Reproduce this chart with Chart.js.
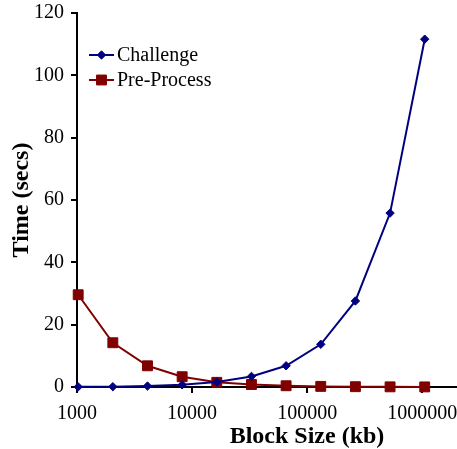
<!DOCTYPE html>
<html>
<head>
<meta charset="utf-8">
<script src="https://cdn.jsdelivr.net/npm/chart.js@4/dist/chart.umd.min.js"></script>
<style>
  body { margin: 0; background: #fff; }
  #wrap { width: 457px; height: 449px; }
</style>
</head>
<body>
<div id="wrap"><canvas id="myChart" width="457" height="449"></canvas></div>
<script>
// block sizes (kb)
const blockSizes = [1024, 2048, 4096, 8192, 16384, 32768, 65536, 131072, 262144, 524288, 1048576]
const challenge = [0.05, 0.1, 0.3, 0.7, 1.6, 3.4, 6.8, 13.7, 27.6, 55.8, 111.6]
const preProcess = [29.6, 14.2, 6.8, 3.3, 1.5, 0.8, 0.4, 0.2, 0.1, 0.05, 0.03]
const xTicks = [1000, 10000, 100000, 1000000]
const yTicks = [0, 20, 40, 60, 80, 100, 120]

const serif = "'Liberation Serif', 'Times New Roman', serif"

function pts(ys) {
    return blockSizes.map(function (x, i) { return { x: x, y: ys[i] } })
}

// legend drawn inside the plot, top-left
const insideLegend = {
    id: 'insideLegend',
    afterDraw: function (chart) {
        const ctx = chart.ctx
        const items = chart.data.datasets
        ctx.save()
        ctx.font = '20px ' + serif
        ctx.textBaseline = 'middle'
        items.forEach(function (ds, i) {
            const y = 55 + i * 25
            ctx.strokeStyle = ds.borderColor
            ctx.fillStyle = ds.backgroundColor
            ctx.lineWidth = 2
            ctx.beginPath()
            ctx.moveTo(89, y)
            ctx.lineTo(114, y)
            ctx.stroke()
            ctx.lineWidth = 1
            Chart.helpers.drawPoint(ctx, {
                pointStyle: ds.pointStyle,
                radius: ds.pointRadius,
                borderWidth: 1
            }, 101.5, y)
            ctx.fillStyle = '#000'
            ctx.fillText(ds.label, 117, y + 1)
        })
        // x axis title sits right of the plot centre in the original
        ctx.font = 'bold 24px ' + serif
        ctx.textAlign = 'center'
        ctx.fillText('Block Size (kb)', 307, 437)
        ctx.restore()
    }
}

// only the decade ticks on x, fixed ticks on y
function xAfterBuild(scale) {
    scale.ticks = xTicks.map(function (v) { return { value: v } })
}
function yAfterBuild(scale) {
    scale.ticks = yTicks.map(function (v) { return { value: v } })
}
function noPad(s) {
    s.paddingTop = 0
    s.paddingBottom = 0
    s.paddingLeft = 0
    s.paddingRight = 0
}

var ctxL = document.getElementById("myChart").getContext('2d');
var myLineChart = new Chart(ctxL, {
    type: 'line',
    data: {
        datasets: [{
            label: "Challenge",
            data: pts(challenge),
            borderColor: '#000080',
            backgroundColor: '#000080',
            pointStyle: 'rectRot',
            pointRadius: 4.2,
            pointBorderWidth: 1,
            borderWidth: 2,
            clip: false
        },
        {
            label: "Pre-Process",
            data: pts(preProcess),
            borderColor: '#800000',
            backgroundColor: '#800000',
            pointStyle: 'rect',
            pointRadius: 7,
            pointBorderWidth: 1,
            borderWidth: 2,
            clip: false
        }]
    },
    options: {
        responsive: false,
        animation: false,
        layout: { autoPadding: false, padding: { top: 13, right: 0, left: 0, bottom: 0 } },
        plugins: {
            legend: { display: false },
            tooltip: { enabled: false }
        },
        scales: {
            x: {
                type: 'logarithmic',
                min: 1000,
                max: 2000000,
                afterBuildTicks: xAfterBuild,
                afterFit: function (s) { s.height = 62; noPad(s) },
                grid: {
                    drawOnChartArea: false,
                    drawTicks: true,
                    tickLength: 6,
                    color: '#000',
                    lineWidth: 2
                },
                border: { display: true, color: '#000', width: 2 },
                ticks: {
                    color: '#000',
                    font: { family: serif, size: 20 },
                    padding: 9,
                    maxRotation: 0,
                    autoSkip: false,
                    callback: function (v) { return String(v) }
                }
            },
            y: {
                min: 0,
                max: 120,
                afterBuildTicks: yAfterBuild,
                afterFit: function (s) { s.width = 77; noPad(s) },
                grid: {
                    drawOnChartArea: false,
                    drawTicks: true,
                    tickLength: 6,
                    color: '#000',
                    lineWidth: 2
                },
                border: { display: true, color: '#000', width: 2 },
                ticks: {
                    color: '#000',
                    font: { family: serif, size: 20 },
                    padding: 7
                },
                title: {
                    display: true,
                    text: 'Time (secs)',
                    color: '#000',
                    font: { family: serif, size: 24, weight: 'bold' },
                    padding: { top: 7, bottom: 0 }
                }
            }
        }
    },
    plugins: [insideLegend]
});
</script>
</body>
</html>
